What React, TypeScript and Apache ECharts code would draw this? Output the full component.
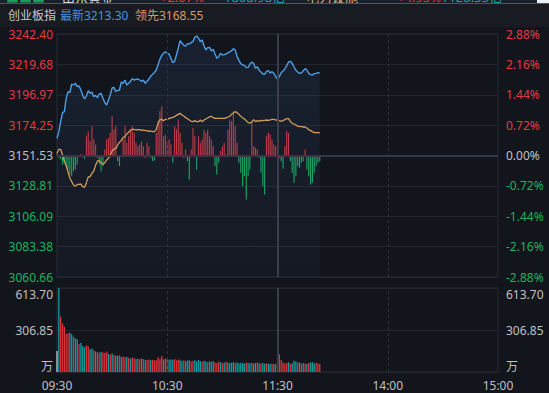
import React, { useEffect, useRef } from 'react';
import * as echarts from 'echarts';

const BASE = 3151.53;
const STEP = 22.7175;
const PRICE_TICKS = ['3060.66', '3083.38', '3106.09', '3128.81', '3151.53', '3174.25', '3196.97', '3219.68', '3242.40'];
const PCT_TICKS = ['-2.88%', '-2.16%', '-1.44%', '-0.72%', '0.00%', '0.72%', '1.44%', '2.16%', '2.88%'];
const VOL_MAX = 613.7;
const VOL_TICKS = ['万', '306.85', '613.70'];
const TIME_LABELS = ['09:30', '10:30', '11:30', '14:00', '15:00'];
const INDEX_NAME = '创业板指';
const LAST_LABEL = '最新3213.30';
const LEAD_LABEL = '领先3168.55';

const PRICE = [
  3164.37, 3169.35, 3176.83, 3183.56, 3184.31, 3194.28, 3199.27, 3198.52, 3205.00, 3204.26,
  3205.50, 3203.01, 3203.51, 3200.52, 3196.53, 3193.78, 3196.03, 3200.02, 3198.02, 3199.02,
  3195.53, 3196.53, 3194.78, 3197.52, 3198.02, 3194.28, 3191.04, 3189.30, 3193.04, 3197.03,
  3202.01, 3202.51, 3199.52, 3200.02, 3200.52, 3206.50, 3205.50, 3207.99, 3204.26, 3205.50,
  3207.00, 3208.99, 3207.99, 3208.49, 3208.74, 3207.99, 3207.00, 3207.99, 3205.50, 3207.00,
  3208.74, 3210.74, 3212.23, 3213.48, 3215.47, 3219.46, 3223.45, 3226.44, 3227.94, 3229.19,
  3227.94, 3227.44, 3224.20, 3220.96, 3221.96, 3226.69, 3231.93, 3237.41, 3235.42, 3233.92,
  3233.42, 3235.17, 3234.92, 3235.92, 3236.91, 3239.91, 3240.90, 3239.41, 3236.66, 3237.91,
  3233.67, 3230.43, 3232.18, 3232.43, 3229.68, 3230.93, 3227.44, 3224.20, 3225.45, 3227.94,
  3226.69, 3226.94, 3227.44, 3228.44, 3228.94, 3229.93, 3231.43, 3230.43, 3225.45, 3222.70,
  3220.21, 3219.21, 3218.96, 3217.22, 3217.47, 3219.96, 3221.46, 3220.46, 3216.72, 3217.97,
  3215.22, 3213.98, 3212.48, 3212.23, 3214.48, 3214.97, 3213.23, 3214.23, 3212.98, 3210.49,
  3208.49, 3210.49, 3213.48, 3214.73, 3216.22, 3218.72, 3221.46, 3221.96, 3220.46, 3217.72,
  3215.22, 3213.98, 3212.98, 3213.23, 3214.97, 3216.47, 3215.47, 3212.98, 3211.98, 3211.73,
  3212.73, 3212.98, 3213.48, 3213.30,
];

const LEAD = [
  3153.15, 3156.14, 3156.14, 3151.90, 3147.17, 3143.92, 3139.19, 3134.70, 3131.96, 3129.47,
  3128.47, 3129.96, 3129.96, 3130.21, 3128.22, 3127.72, 3131.21, 3135.45, 3135.70, 3138.19,
  3139.94, 3144.17, 3147.41, 3147.66, 3146.17, 3144.92, 3146.17, 3148.16, 3149.41, 3152.15,
  3154.89, 3156.39, 3156.63, 3159.38, 3161.37, 3162.87, 3165.12, 3165.62, 3167.61, 3168.86,
  3170.60, 3171.10, 3171.10, 3170.60, 3170.85, 3170.85, 3170.35, 3170.60, 3170.10, 3170.10,
  3169.60, 3169.85, 3169.35, 3169.35, 3171.10, 3175.59, 3178.33, 3178.58, 3177.58, 3178.58,
  3178.58, 3179.32, 3179.57, 3180.07, 3180.57, 3181.57, 3182.32, 3183.07, 3181.82, 3181.07,
  3179.82, 3179.07, 3178.08, 3177.08, 3176.83, 3177.58, 3176.83, 3176.83, 3178.08, 3176.83,
  3178.08, 3178.83, 3179.57, 3180.57, 3180.82, 3179.82, 3179.32, 3179.32, 3179.32, 3179.32,
  3179.32, 3179.32, 3179.57, 3180.32, 3180.82, 3182.32, 3183.32, 3184.31, 3183.56, 3182.32,
  3180.82, 3179.82, 3178.83, 3177.58, 3176.09, 3175.84, 3176.58, 3178.33, 3176.83, 3177.58,
  3177.08, 3177.83, 3177.58, 3177.83, 3178.08, 3177.83, 3178.08, 3178.58, 3178.58, 3178.08,
  3178.08, 3177.58, 3177.08, 3177.58, 3178.33, 3179.07, 3179.07, 3177.08, 3175.59, 3175.09,
  3174.34, 3173.34, 3173.34, 3173.09, 3172.84, 3172.84, 3172.10, 3170.85, 3170.10, 3169.35,
  3168.61, 3168.61, 3168.61, 3168.55,
];

// up/down strength bars, in index points relative to the previous close
const STRENGTH = [
  1.50, -1.75, -2.99, -6.73, -5.48, -7.98, -10.47, -14.21, -15.46, -11.72,
  -10.47, -6.73, -1.00, 1.00, -1.25, -2.49, 14.46, 18.20, 10.72, 21.94,
  11.97, 8.23, -1.75, -6.73, -11.72, -7.98, 4.49, 11.97, 13.21, 16.95,
  29.42, 19.45, 21.94, -4.24, -7.98, -0.50, 11.97, 21.94, 9.47, 14.46,
  19.45, 21.94, 16.95, 9.47, 6.98, 8.23, 10.72, 6.98, -1.75, 9.47,
  6.98, -1.75, -4.24, -3.74, 16.95, 25.68, 33.16, 36.90, 14.46, 15.71,
  10.72, 11.97, 8.23, -5.48, 21.94, 19.45, 26.92, 16.95, 9.47, -1.75,
  4.49, -4.24, -17.95, 4.49, 20.69, 14.46, -10.47, 14.46, 9.47, 11.97,
  19.45, 16.95, 19.45, 14.46, 11.97, 6.98, -7.98, -14.21, -5.48, 3.24,
  6.98, 9.47, 0.75, 19.45, 26.92, 25.68, 33.16, 21.94, 9.47, -5.48,
  -12.96, -22.94, -15.46, -32.91, -15.46, -10.47, 25.68, 6.98, 5.73, 4.49,
  -1.75, -12.96, -22.94, -29.17, 14.46, 16.95, 15.71, 11.97, 8.23, 6.98,
  4.49, -1.75, -4.24, -9.97, 6.98, 18.20, 16.95, -4.24, -12.96, -20.44,
  -15.46, -7.98, -9.22, -5.48, -4.24, 4.49, -10.47, -15.46, -21.69, -20.44,
  -12.96, -7.98, -5.48, -4.24,
];

const VOLUME = [
  153, 613.7, 404, 356, 331, 280, 284, 287, 275, 258,
  246, 239, 205, 212, 190, 180, 195, 188, 166, 172,
  158, 150, 146, 140, 148, 142, 138, 150, 132, 128,
  135, 124, 120, 118, 122, 110, 115, 108, 112, 104,
  98, 106, 100, 95, 97, 92, 99, 94, 90, 88,
  92, 86, 89, 84, 88, 108, 95, 117, 92, 100,
  95, 90, 94, 88, 96, 85, 92, 90, 80, 86,
  78, 84, 86, 76, 82, 85, 78, 88, 80, 74,
  82, 76, 72, 78, 74, 80, 70, 66, 76, 72,
  64, 68, 74, 70, 66, 68, 72, 66, 70, 64,
  68, 66, 62, 70, 66, 64, 68, 62, 66, 70,
  64, 62, 66, 60, 64, 62, 58, 62, 56, 60,
  55, 129, 88, 70, 62, 66, 72, 60, 64, 82,
  76, 68, 70, 60, 66, 62, 58, 66, 70, 72,
  64, 68, 62, 60,
];

// 1 = up (red), -1 = down (teal), 0 = flat (grey)
const VOL_DIR = [
  0, -1, 1, 1, 1, 1, 1, -1, -1, 1,
  -1, -1, 1, -1, -1, -1, 1, 1, -1, -1,
  1, -1, 1, 1, -1, 1, 1, 1, -1, 1,
  -1, 1, -1, -1, 1, -1, 1, 1, -1, 1,
  -1, 1, 1, -1, 1, 1, -1, 1, -1, 1,
  1, -1, 1, 1, 1, 1, 1, 1, -1, 1,
  1, -1, -1, -1, 1, 1, 1, -1, -1, 1,
  -1, -1, -1, 1, 1, -1, -1, -1, -1, 1,
  -1, -1, 1, -1, -1, -1, 1, 1, 1, -1,
  1, -1, 1, -1, -1, -1, -1, 1, -1, -1,
  -1, -1, -1, 1, -1, -1, 1, -1, -1, 1,
  -1, 1, -1, -1, 1, -1, -1, 1, -1, 1,
  -1, 1, 1, 1, 1, 1, -1, 1, -1, -1,
  -1, 1, -1, 1, -1, 1, -1, 1, -1, -1,
  -1, 1, 1, 1,
];

function buildTimes(): string[] {
  const out: string[] = [];
  const fmt = (m: number) => `${String(Math.floor(m / 60)).padStart(2, '0')}:${String(m % 60).padStart(2, '0')}`;
  for (let m = 9 * 60 + 30; m <= 11 * 60 + 30; m++) out.push(fmt(m));
  for (let m = 13 * 60 + 1; m <= 15 * 60; m++) out.push(fmt(m));
  return out;
}
const TIMES = buildTimes();

const RED = '#e33b40';
const GREEN = '#1db35c';
const GREY = '#bfc1c6';
const TEAL = '#129c9f';
const VOL_RED = '#d8353b';
const BG = '#13151c';
const SPLIT = '#22252f';
const BORDER = '#282b36';
const FONT = "'Noto Sans', 'Noto Sans CJK SC', sans-serif";

const tickIdx = (v: number) => Math.round(Number(v) / STEP) + 4;
const tickColor = (v: any) => {
  const k = tickIdx(v);
  return k > 4 ? RED : k < 4 ? GREEN : GREY;
};

export default function App() {
  const ref = useRef<HTMLDivElement>(null);
  useEffect(() => {
    document.body.style.margin = '0';
    if (!ref.current) return;
    const chart = echarts.init(ref.current, undefined, { renderer: 'svg' });
    const priceDelta = PRICE.map((v) => +(v - BASE).toFixed(4));
    const leadDelta = LEAD.map((v) => +(v - BASE).toFixed(4));
    const vLines = (color: string, solidColor: string) => [
      { xAxis: '10:30', lineStyle: { color, type: [3, 3], width: 1 } },
      { xAxis: '11:30', lineStyle: { color: solidColor, type: 'solid', width: 2 } },
      { xAxis: '14:00', lineStyle: { color, type: [3, 3], width: 1 } },
    ];
    const topText = (x: number, text: string, fill: string) => ({
      type: 'text', x, y: -3,
      style: { text, fill, fontSize: 13, fontFamily: FONT, verticalAlign: 'middle' },
    });
    const option: any = {
      animation: false,
      backgroundColor: BG,
      textStyle: { fontFamily: FONT },
      graphic: [
        { type: 'rect', shape: { x: 0, y: 0, width: 549, height: 4 }, style: { fill: '#1d1f27' } },
        topText(6, '■■■', '#1c9a58'),
        topText(62, '山东黄金', '#d9d9d9'),
        topText(160, '+2.07%', '#e03a3e'),
        topText(224, '1808.98亿', '#1aa3b8'),
        topText(306, '电力设施', '#d8b890'),
        topText(397, '+4.95%', '#e03a3e'),
        topText(441, '1128.53亿', '#1aa3b8'),
        { type: 'rect', shape: { x: 537, y: 0, width: 12, height: 3 }, style: { fill: '#f0f0f0' } },
        { type: 'rect', shape: { x: 0, y: 3, width: 549, height: 1 }, style: { fill: '#245f96' } },
        { type: 'rect', shape: { x: 0, y: 4, width: 549, height: 23 }, style: { fill: '#191b23' } },
        { type: 'text', x: 8, y: 15, style: { text: INDEX_NAME, fill: '#c8c8c8', fontSize: 12, fontFamily: FONT, verticalAlign: 'middle' } },
        { type: 'text', x: 60, y: 15, style: { text: LAST_LABEL, fill: '#4b93d6', fontSize: 12, fontFamily: FONT, verticalAlign: 'middle' } },
        { type: 'text', x: 135, y: 15, style: { text: LEAD_LABEL, fill: '#d49d5e', fontSize: 12, fontFamily: FONT, verticalAlign: 'middle' } },
      ],
      grid: [
        { left: 57, top: 34, width: 441, height: 243, show: true, borderColor: BORDER, borderWidth: 1, backgroundColor: 'transparent' },
        { left: 57, top: 288, width: 441, height: 84, show: true, borderColor: BORDER, borderWidth: 1, backgroundColor: 'transparent' },
      ],
      xAxis: [
        {
          type: 'category', gridIndex: 0, data: TIMES, boundaryGap: false,
          axisLine: { show: false }, axisTick: { show: false }, axisLabel: { show: false }, splitLine: { show: false },
        },
        {
          type: 'category', gridIndex: 1, data: TIMES, boundaryGap: false,
          axisLine: { show: false }, axisTick: { show: false }, splitLine: { show: false },
          axisLabel: {
            interval: (_i: number, v: string) => TIME_LABELS.includes(v),
            color: GREY, fontSize: 12, margin: 7, showMinLabel: true, showMaxLabel: true,
          },
        },
      ],
      yAxis: [
        {
          type: 'value', gridIndex: 0, position: 'left', min: -4 * STEP, max: 4 * STEP, interval: STEP,
          axisLine: { show: false }, axisTick: { show: false },
          splitLine: { show: true, lineStyle: { color: SPLIT, width: 1 } },
          axisLabel: { formatter: (v: number) => PRICE_TICKS[tickIdx(v)] ?? '', color: tickColor, fontSize: 12, margin: 4 },
        },
        {
          type: 'value', gridIndex: 0, position: 'right', min: -4 * STEP, max: 4 * STEP, interval: STEP,
          axisLine: { show: false }, axisTick: { show: false }, splitLine: { show: false },
          axisLabel: { formatter: (v: number) => PCT_TICKS[tickIdx(v)] ?? '', color: tickColor, fontSize: 12, margin: 8 },
        },
        {
          type: 'value', gridIndex: 1, position: 'left', min: 0, max: VOL_MAX, interval: VOL_MAX / 2,
          axisLine: { show: false }, axisTick: { show: false },
          splitLine: { show: true, lineStyle: { color: SPLIT, width: 1 } },
          axisLabel: {
            formatter: (v: number) => VOL_TICKS[Math.round(v / (VOL_MAX / 2))] ?? '',
            color: GREY, fontSize: 12, margin: 4, verticalAlignMinLabel: 'bottom', verticalAlignMaxLabel: 'top',
          },
        },
        {
          type: 'value', gridIndex: 1, position: 'right', min: 0, max: VOL_MAX, interval: VOL_MAX / 2,
          axisLine: { show: false }, axisTick: { show: false }, splitLine: { show: false },
          axisLabel: {
            formatter: (v: number) => VOL_TICKS[Math.round(v / (VOL_MAX / 2))] ?? '',
            color: GREY, fontSize: 12, margin: 8, verticalAlignMinLabel: 'bottom', verticalAlignMaxLabel: 'top',
          },
        },
      ],
      series: [
        {
          name: 'area', type: 'line', xAxisIndex: 0, yAxisIndex: 0, data: priceDelta,
          showSymbol: false, silent: true, lineStyle: { width: 0 },
          areaStyle: {
            origin: 'start',
            color: new echarts.graphic.LinearGradient(0, 0, 0, 1, [
              { offset: 0, color: 'rgba(70,130,210,0.16)' },
              { offset: 1, color: 'rgba(70,130,210,0.05)' },
            ]),
          },
          markLine: {
            silent: true, symbol: ['none', 'none'], label: { show: false },
            data: [
              ...vLines('#2f3341', '#3a3e4c'),
              { yAxis: 0, lineStyle: { color: '#343846', type: 'solid', width: 2 } },
            ],
          },
        },
        {
          name: 'strength', type: 'bar', xAxisIndex: 0, yAxisIndex: 0, data: STRENGTH, barWidth: '62%',
          itemStyle: { color: (p: any) => (p.value >= 0 ? '#c7343c' : '#17a65a') },
        },
        {
          name: 'price', type: 'line', xAxisIndex: 0, yAxisIndex: 0, data: priceDelta,
          showSymbol: false, lineStyle: { color: '#4b9de4', width: 1.4 },
        },
        {
          name: 'lead', type: 'line', xAxisIndex: 0, yAxisIndex: 0, data: leadDelta,
          showSymbol: false, lineStyle: { color: '#d39c5a', width: 1.3 },
        },
        {
          name: 'volume', type: 'bar', xAxisIndex: 1, yAxisIndex: 2, data: VOLUME, barWidth: '72%',
          itemStyle: {
            color: (p: any) => (VOL_DIR[p.dataIndex] > 0 ? VOL_RED : VOL_DIR[p.dataIndex] < 0 ? TEAL : '#c8c8c8'),
          },
          markLine: {
            silent: true, symbol: ['none', 'none'], label: { show: false },
            data: vLines('#2f3341', '#3a3e4c'),
          },
        },
      ],
    };
    chart.setOption(option);
    return () => chart.dispose();
  }, []);
  return <div ref={ref} style={{ width: 549, height: 393 }} />;
}
